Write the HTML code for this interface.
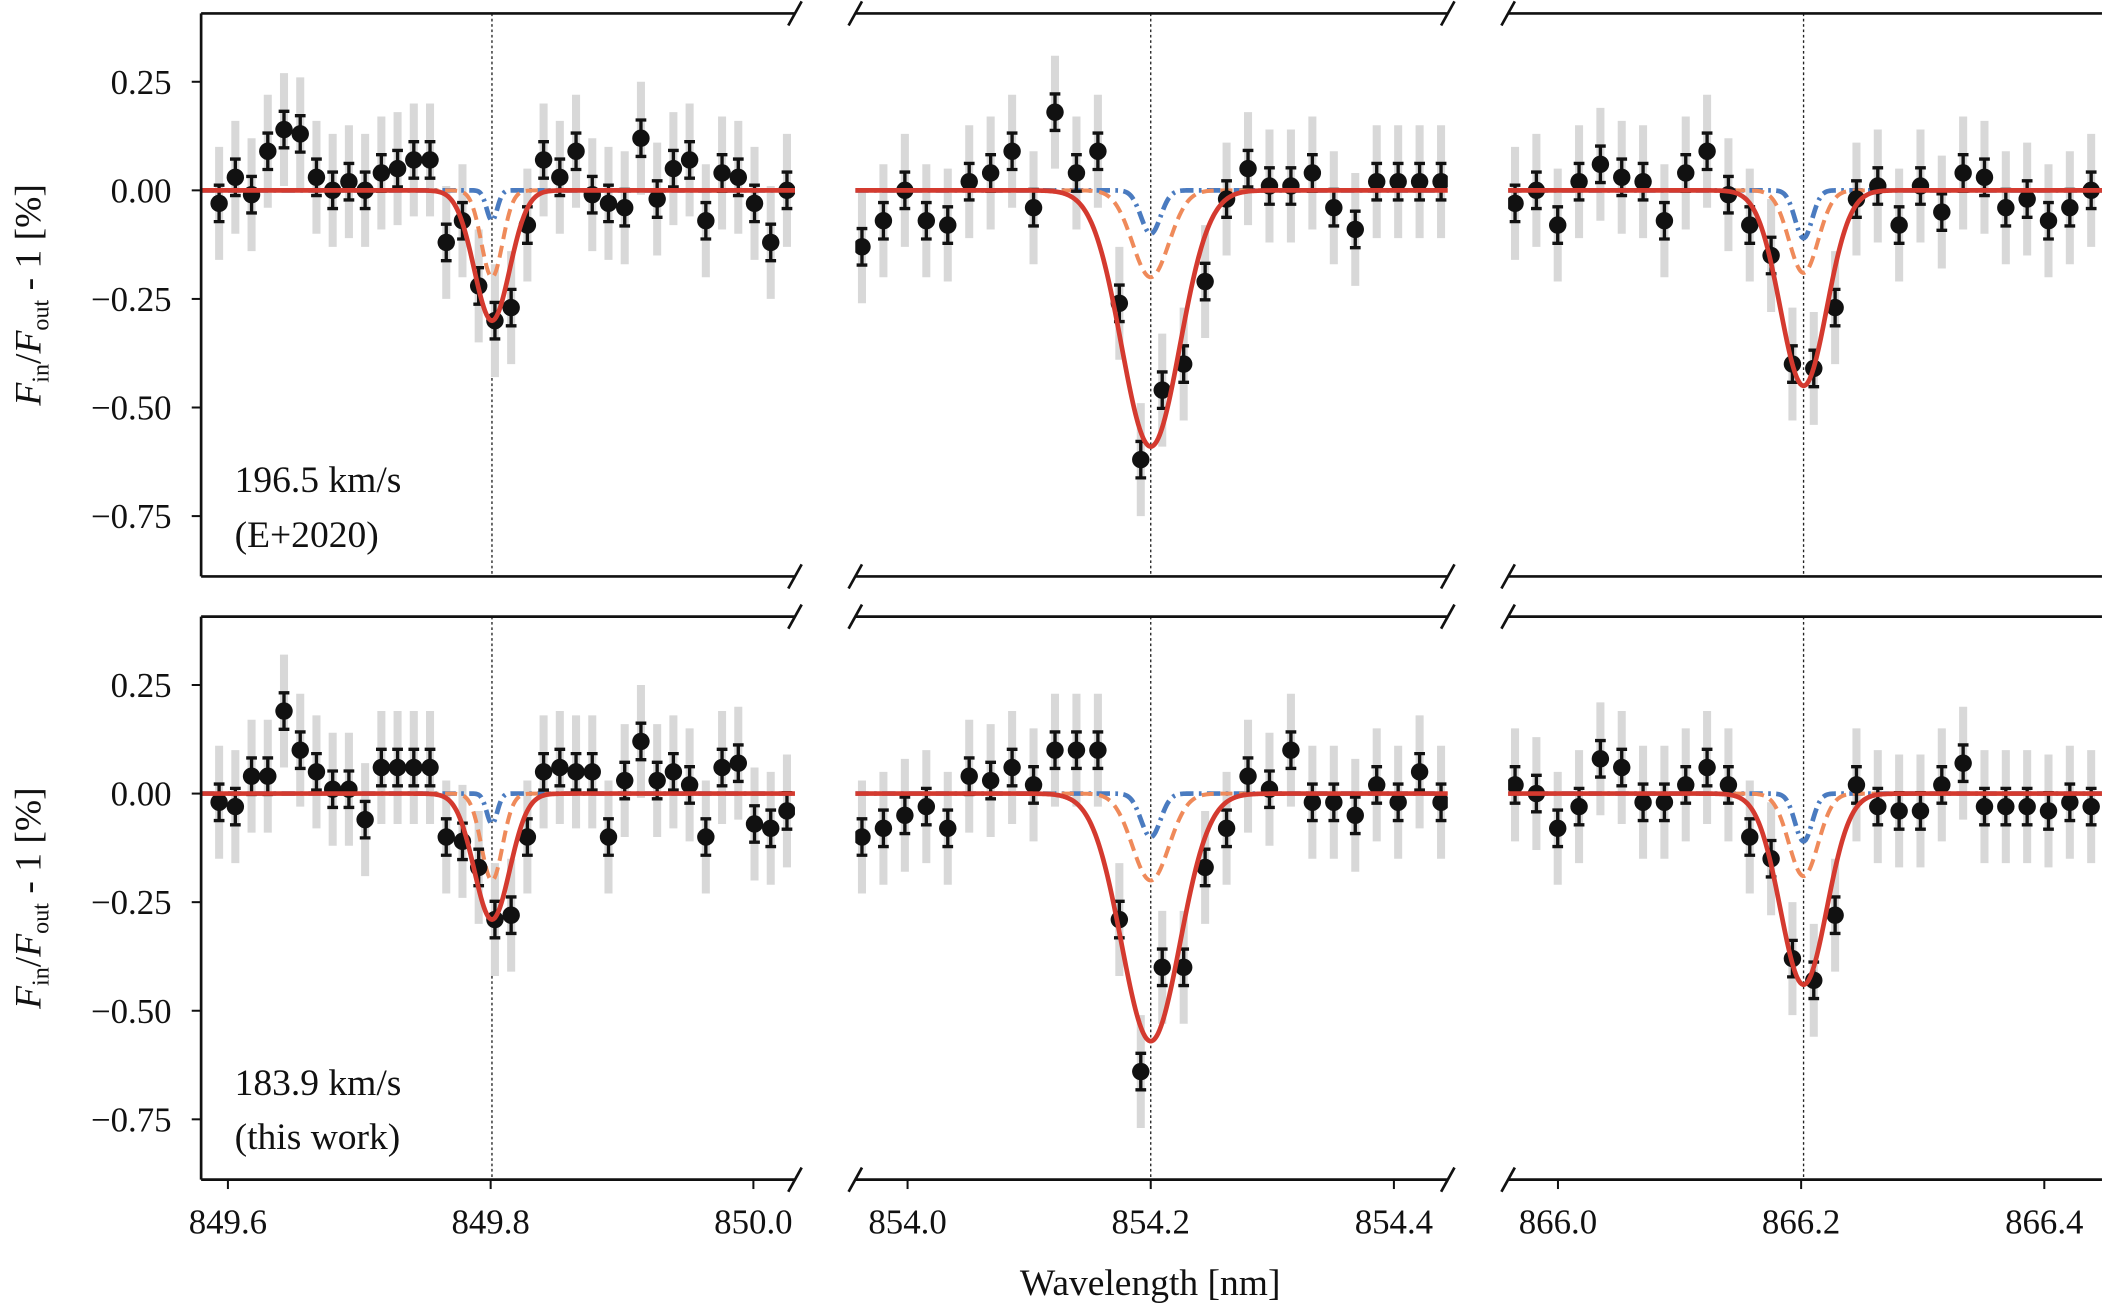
<!DOCTYPE html>
<html><head><meta charset="utf-8"><style>
html,body{margin:0;padding:0;background:#fff;}
svg{display:block;}
text{font-family:"Liberation Serif","DejaVu Serif",serif;fill:#111;}
</style></head><body>
<svg id="chart" width="2102" height="1307" viewBox="0 0 1568 975" xmlns="http://www.w3.org/2000/svg"></svg>
<script>
// ---- data ----
const yTicks = [0.25, 0.00, -0.25, -0.50, -0.75];
const yTickLabels = ["0.25", "0.00", "\u22120.25", "\u22120.50", "\u22120.75"];
const xTicks1 = [849.6, 849.8, 850.0];
const xTicks2 = [854.0, 854.2, 854.4];
const xTicks3 = [866.0, 866.2, 866.4];
const lineCenters = [849.801, 854.200, 866.202];
// wavelength grids (start, step) per panel
const gridStart = [849.5933, 853.9625, 865.9647];
const gridStep = [0.01235, 0.01764, 0.01755];
// observed values, top row (E+2020)
const top1 = [-0.03,0.03,-0.01,0.09,0.14,0.13,0.03,0.00,0.02,0.00,0.04,0.05,0.07,0.07,-0.12,-0.07,-0.22,-0.30,-0.27,-0.08,0.07,0.03,0.09,-0.01,-0.03,-0.04,0.12,-0.02,0.05,0.07,-0.07,0.04,0.03,-0.03,-0.12,0.00];
const top2 = [-0.13,-0.07,0.00,-0.07,-0.08,0.02,0.04,0.09,-0.04,0.18,0.04,0.09,-0.26,-0.62,-0.46,-0.40,-0.21,-0.02,0.05,0.01,0.01,0.04,-0.04,-0.09,0.02,0.02,0.02,0.02];
const top3 = [-0.03,0.00,-0.08,0.02,0.06,0.03,0.02,-0.07,0.04,0.09,-0.01,-0.08,-0.15,-0.40,-0.41,-0.27,-0.02,0.01,-0.08,0.01,-0.05,0.04,0.03,-0.04,-0.02,-0.07,-0.04,0.00];
// observed values, bottom row (this work)
const bot1 = [-0.02,-0.03,0.04,0.04,0.19,0.10,0.05,0.01,0.01,-0.06,0.06,0.06,0.06,0.06,-0.10,-0.11,-0.17,-0.29,-0.28,-0.10,0.05,0.06,0.05,0.05,-0.10,0.03,0.12,0.03,0.05,0.02,-0.10,0.06,0.07,-0.07,-0.08,-0.04];
const bot2 = [-0.10,-0.08,-0.05,-0.03,-0.08,0.04,0.03,0.06,0.02,0.10,0.10,0.10,-0.29,-0.64,-0.40,-0.40,-0.17,-0.08,0.04,0.01,0.10,-0.02,-0.02,-0.05,0.02,-0.02,0.05,-0.02];
const bot3 = [0.02,0.00,-0.08,-0.03,0.08,0.06,-0.02,-0.02,0.02,0.06,0.02,-0.10,-0.15,-0.38,-0.43,-0.28,0.02,-0.03,-0.04,-0.04,0.02,0.07,-0.03,-0.03,-0.03,-0.04,-0.02,-0.03];
const errBlack = 0.042;
const errGray = 0.13;
// model gaussian parameters per panel: red (total), orange, blue
const redDepthTop = [-0.30, -0.59, -0.45];
const redDepthBot = [-0.29, -0.57, -0.44];
const redSigma = [0.0135, 0.024, 0.019];
const orangeDepth = [-0.20, -0.20, -0.19];
const orangeSigma = [0.008, 0.015, 0.012];
const blueDepth = [-0.07, -0.10, -0.11];
const blueSigma = [0.004, 0.008, 0.007];

// ---- layout ----
const NS = "http://www.w3.org/2000/svg";
const svg = document.getElementById("chart");
const cols = [[150,593],[638,1080],[1125,1568]];
const rows = [[10,430],[460,880]];
const rowY0 = [142, 592];
const pxPerUnit = 324;
const xDomStart = [849.5796, 853.957, 865.959];
const pxPerNm = [980, 907, 907];
function xScale(p, w){ return cols[p][0] + (w - xDomStart[p]) * pxPerNm[p]; }
function yScale(r, v){ return rowY0[r] - v * pxPerUnit; }
function el(tag, attrs, parent){
  const e = document.createElementNS(NS, tag);
  for (const k in attrs) e.setAttribute(k, attrs[k]);
  (parent||svg).appendChild(e); return e;
}
const data = [[top1,top2,top3],[bot1,bot2,bot3]];
const redDepth = [redDepthTop, redDepthBot];

for (let r=0;r<2;r++){
  for (let p=0;p<3;p++){
    const g = el("g",{});
    
    
    const clipId = "c"+r+p;
    const cp = el("clipPath",{id:clipId}, g);
    el("rect",{x:cols[p][0],y:rows[r][0],width:cols[p][1]-cols[p][0],height:rows[r][1]-rows[r][0]}, cp);
    const inner = el("g",{"clip-path":"url(#"+clipId+")"}, g);
    const cx = xScale(p, lineCenters[p]);
    const vl = el("line",{x1:cx,x2:cx,y1:rows[r][0],y2:rows[r][1],stroke:"#222","stroke-width":1,"stroke-dasharray":"2,2"}, inner);
    
    
    const vals = data[r][p];
    vals.forEach((v,i)=>{
      const w = gridStart[p] + i*gridStep[p];
      const x = xScale(p,w);
      const gb = el("line",{x1:x,x2:x,y1:yScale(r,v+errGray),y2:yScale(r,v-errGray),stroke:"#d8d8d8","stroke-width":6}, inner);
      
      
    });
    function curve(depth, sigma){
      let d = "";
      for (let x=cols[p][0]; x<=cols[p][1]; x+=1){
        const w = xDomStart[p] + (x-cols[p][0])/pxPerNm[p];
        const v = depth*Math.exp(-0.5*Math.pow((w-lineCenters[p])/sigma,2));
        d += (d?"L":"M")+x+","+yScale(r,v).toFixed(2);
      }
      return d;
    }
    const bl = el("path",{d:curve(blueDepth[p],blueSigma[p]),fill:"none",stroke:"#4a7bc0","stroke-width":3.5,"stroke-dasharray":"10,4,2,4"}, inner);
    
    
    const or = el("path",{d:curve(orangeDepth[p],orangeSigma[p]),fill:"none",stroke:"#ef8a5a","stroke-width":3,"stroke-dasharray":"9,5"}, inner);
    
    
    vals.forEach((v,i)=>{
      const w = gridStart[p] + i*gridStep[p];
      const x = xScale(p,w);
      const y1 = yScale(r,v+errBlack), y2 = yScale(r,v-errBlack);
      const eb = el("path",{d:`M${x},${y1}L${x},${y2}M${x-4},${y1}L${x+4},${y1}M${x-4},${y2}L${x+4},${y2}`,stroke:"#111","stroke-width":2.5,fill:"none"}, inner);
      
      
      const pt = el("circle",{cx:x,cy:yScale(r,v),r:6.5,fill:"#111"}, inner);
      
      
    });
    const rd = el("path",{d:curve(redDepth[r][p],redSigma[p]),fill:"none",stroke:"#d43a2f","stroke-width":3.5}, inner);
    
    
    for (const y of [rows[r][0], rows[r][1]]){
      const s = el("line",{x1:cols[p][0],x2:cols[p][1],y1:y,y2:y,stroke:"#111","stroke-width":2}, g);
      
      
      const ends = [];
      if (p>0) ends.push(cols[p][0]);
      if (p<2) ends.push(cols[p][1]);
      ends.forEach(ex=>{
        const bk = el("line",{x1:ex-5,y1:y+9,x2:ex+5,y2:y-9,stroke:"#111","stroke-width":2}, g);
        
        
      });
    }
    if (p===0){
      const ls = el("line",{x1:150,x2:150,y1:rows[r][0],y2:rows[r][1],stroke:"#111","stroke-width":2}, g);
      
      
      yTicks.forEach((t,i)=>{
        const y = yScale(r,t);
        const tk = el("line",{x1:143,x2:150,y1:y,y2:y,stroke:"#111","stroke-width":1.5}, g);
        
        
        const tl = el("text",{x:128,y:y+9,"text-anchor":"end","font-size":26}, g);
        tl.textContent = yTickLabels[i];
        
        
      });
    }
    if (r===1){
      const ticks = [xTicks1,xTicks2,xTicks3][p];
      ticks.forEach(t=>{
        const x = xScale(p,t);
        const tk = el("line",{x1:x,x2:x,y1:880,y2:887,stroke:"#111","stroke-width":1.5}, g);
        
        
        const tl = el("text",{x:x,y:920,"text-anchor":"middle","font-size":26}, g);
        tl.textContent = t.toFixed(1);
        
        
      });
    }
  }
}
const ann = [["196.5 km/s","(E+2020)",367,408],["183.9 km/s","(this work)",817,857]];
ann.forEach((a,i)=>{
  const t1 = el("text",{x:175,y:a[2],"font-size":28});
  t1.textContent = a[0];
  
  
  const t2 = el("text",{x:175,y:a[3],"font-size":28});
  t2.textContent = a[1];
  
  
});
[220, 670].forEach(cy=>{
  const t = el("text",{x:0,y:0,"font-size":28,"text-anchor":"middle",transform:`translate(30,${cy}) rotate(-90)`});
  t.innerHTML = '<tspan font-style="italic">F</tspan><tspan font-size="18" dy="6">in</tspan><tspan dy="-6">/</tspan><tspan font-style="italic">F</tspan><tspan font-size="18" dy="6">out</tspan><tspan dy="-6"> - 1 [%]</tspan>';
  
  
});
const xt = el("text",{x:858,y:966,"font-size":28,"text-anchor":"middle"});
xt.textContent = "Wavelength [nm]";


</script>
</body></html>
